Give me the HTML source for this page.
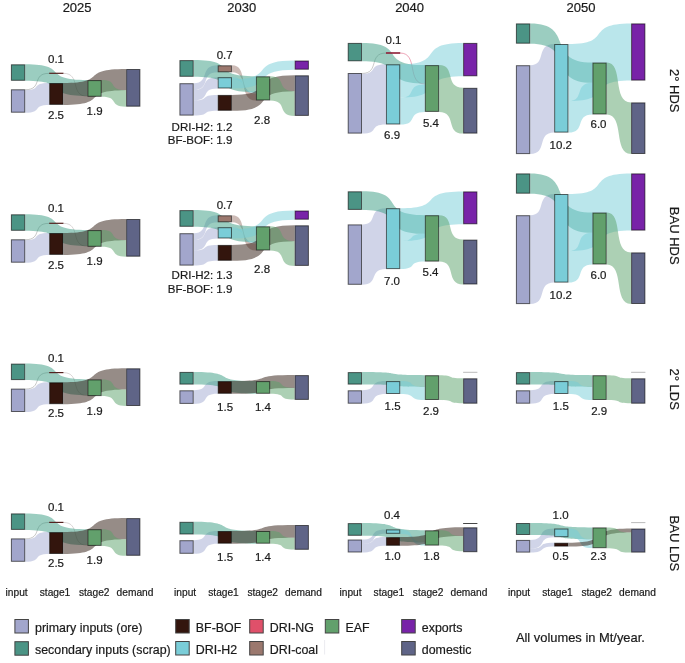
<!DOCTYPE html>
<html><head><meta charset="utf-8"><style>
html,body{margin:0;padding:0;background:#fff;}
svg{display:block;filter:blur(0.4px);}
text{font-family:"Liberation Sans", sans-serif;fill:#1a1a1a;stroke:#1a1a1a;stroke-width:0.2px;}
.n{font-size:11.5px;}
.h{font-size:13px;}
.a{font-size:10.2px;}
.l{font-size:12.4px;}
.l2{font-size:12.9px;}
</style></head><body>
<svg width="685" height="663" viewBox="0 0 685 663">
<rect width="685" height="663" fill="#fff"/>
<g><path d="M25.2,89.75C43.16,89.75 31.19,73.35 49.15,73.35" fill="none" stroke="#9a9a9a" stroke-width="0.8" stroke-opacity="0.7"/><path d="M63.45,73.35C81.41,73.35 69.44,96.25 87.4,96.25" fill="none" stroke="#bdb3b3" stroke-width="0.8" stroke-opacity="0.7"/><path d="M25.2,90.2C42.16,90.2 30.19,83 49.15,83L49.15,104.9C31.19,104.9 43.16,112.7 25.2,112.7Z" fill="#a1aad2" fill-opacity="0.5"/><path d="M25.2,64.3C70.85,64.3 39.75,80.1 87.4,80.1L87.4,96C40.75,96 71.85,80.8 25.2,80.8Z" fill="#379b81" fill-opacity="0.5"/><path d="M63.45,83C109.44,83 78.11,69 126.1,69L126.1,90.2C79.11,90.2 110.44,104.9 63.45,104.9Z" fill="#2d190f" fill-opacity="0.5"/><path d="M101.7,80.1C119,80.1 106.8,90.2 126.1,90.2L126.1,106.7C107.8,106.7 120,96.8 101.7,96.8Z" fill="#59a169" fill-opacity="0.5"/><rect x="11.4" y="64.8" width="13.3" height="15.5" fill="#4b9485" stroke="#000" stroke-opacity="0.6" stroke-width="1"/><rect x="11.4" y="89.8" width="13.3" height="22.4" fill="#a2a6cc" stroke="#000" stroke-opacity="0.6" stroke-width="1"/><rect x="49.15" y="72.7" width="14.3" height="1.2" fill="#55221f"/><rect x="49.65" y="83.5" width="13.3" height="20.9" fill="#33150d" stroke="#000" stroke-opacity="0.6" stroke-width="1"/><rect x="87.9" y="80.6" width="13.3" height="15.7" fill="#62a06c" stroke="#000" stroke-opacity="0.6" stroke-width="1"/><rect x="126.6" y="69.5" width="13.3" height="36.7" fill="#5f6487" stroke="#000" stroke-opacity="0.6" stroke-width="1"/><text x="56" y="62.6" text-anchor="middle" class="n">0.1</text><text x="56" y="119.4" text-anchor="middle" class="n">2.5</text><text x="94.6" y="115.4" text-anchor="middle" class="n">1.9</text></g>
<g><path d="M25.2,239.75C43.16,239.75 31.19,223.35 49.15,223.35" fill="none" stroke="#9a9a9a" stroke-width="0.8" stroke-opacity="0.7"/><path d="M63.45,223.35C81.41,223.35 69.44,246.25 87.4,246.25" fill="none" stroke="#bdb3b3" stroke-width="0.8" stroke-opacity="0.7"/><path d="M25.2,240.2C42.16,240.2 30.19,233 49.15,233L49.15,254.9C31.19,254.9 43.16,262.7 25.2,262.7Z" fill="#a1aad2" fill-opacity="0.5"/><path d="M25.2,214.3C70.85,214.3 39.75,230.1 87.4,230.1L87.4,246C40.75,246 71.85,230.8 25.2,230.8Z" fill="#379b81" fill-opacity="0.5"/><path d="M63.45,233C109.44,233 78.11,219 126.1,219L126.1,240.2C79.11,240.2 110.44,254.9 63.45,254.9Z" fill="#2d190f" fill-opacity="0.5"/><path d="M101.7,230.1C119,230.1 106.8,240.2 126.1,240.2L126.1,256.7C107.8,256.7 120,246.8 101.7,246.8Z" fill="#59a169" fill-opacity="0.5"/><rect x="11.4" y="214.8" width="13.3" height="15.5" fill="#4b9485" stroke="#000" stroke-opacity="0.6" stroke-width="1"/><rect x="11.4" y="239.8" width="13.3" height="22.4" fill="#a2a6cc" stroke="#000" stroke-opacity="0.6" stroke-width="1"/><rect x="49.15" y="222.7" width="14.3" height="1.2" fill="#55221f"/><rect x="49.65" y="233.5" width="13.3" height="20.9" fill="#33150d" stroke="#000" stroke-opacity="0.6" stroke-width="1"/><rect x="87.9" y="230.6" width="13.3" height="15.7" fill="#62a06c" stroke="#000" stroke-opacity="0.6" stroke-width="1"/><rect x="126.6" y="219.5" width="13.3" height="36.7" fill="#5f6487" stroke="#000" stroke-opacity="0.6" stroke-width="1"/><text x="56" y="212" text-anchor="middle" class="n">0.1</text><text x="56" y="269.1" text-anchor="middle" class="n">2.5</text><text x="94.6" y="264.9" text-anchor="middle" class="n">1.9</text></g>
<g><path d="M25.2,389.05C43.16,389.05 31.19,372.65 49.15,372.65" fill="none" stroke="#9a9a9a" stroke-width="0.8" stroke-opacity="0.7"/><path d="M63.45,372.65C81.41,372.65 69.44,395.55 87.4,395.55" fill="none" stroke="#bdb3b3" stroke-width="0.8" stroke-opacity="0.7"/><path d="M25.2,389.5C42.16,389.5 30.19,382.3 49.15,382.3L49.15,404.2C31.19,404.2 43.16,412 25.2,412Z" fill="#a1aad2" fill-opacity="0.5"/><path d="M25.2,363.6C70.85,363.6 39.75,379.4 87.4,379.4L87.4,395.3C40.75,395.3 71.85,380.1 25.2,380.1Z" fill="#379b81" fill-opacity="0.5"/><path d="M63.45,382.3C109.44,382.3 78.11,368.3 126.1,368.3L126.1,389.5C79.11,389.5 110.44,404.2 63.45,404.2Z" fill="#2d190f" fill-opacity="0.5"/><path d="M101.7,379.4C119,379.4 106.8,389.5 126.1,389.5L126.1,406C107.8,406 120,396.1 101.7,396.1Z" fill="#59a169" fill-opacity="0.5"/><rect x="11.4" y="364.1" width="13.3" height="15.5" fill="#4b9485" stroke="#000" stroke-opacity="0.6" stroke-width="1"/><rect x="11.4" y="389.1" width="13.3" height="22.4" fill="#a2a6cc" stroke="#000" stroke-opacity="0.6" stroke-width="1"/><rect x="49.15" y="372" width="14.3" height="1.2" fill="#55221f"/><rect x="49.65" y="382.8" width="13.3" height="20.9" fill="#33150d" stroke="#000" stroke-opacity="0.6" stroke-width="1"/><rect x="87.9" y="379.9" width="13.3" height="15.7" fill="#62a06c" stroke="#000" stroke-opacity="0.6" stroke-width="1"/><rect x="126.6" y="368.8" width="13.3" height="36.7" fill="#5f6487" stroke="#000" stroke-opacity="0.6" stroke-width="1"/><text x="56" y="362" text-anchor="middle" class="n">0.1</text><text x="56" y="417.3" text-anchor="middle" class="n">2.5</text><text x="94.6" y="414.5" text-anchor="middle" class="n">1.9</text></g>
<g><path d="M25.2,538.85C43.16,538.85 31.19,522.45 49.15,522.45" fill="none" stroke="#9a9a9a" stroke-width="0.8" stroke-opacity="0.7"/><path d="M63.45,522.45C81.41,522.45 69.44,545.35 87.4,545.35" fill="none" stroke="#bdb3b3" stroke-width="0.8" stroke-opacity="0.7"/><path d="M25.2,539.3C42.16,539.3 30.19,532.1 49.15,532.1L49.15,554C31.19,554 43.16,561.8 25.2,561.8Z" fill="#a1aad2" fill-opacity="0.5"/><path d="M25.2,513.4C70.85,513.4 39.75,529.2 87.4,529.2L87.4,545.1C40.75,545.1 71.85,529.9 25.2,529.9Z" fill="#379b81" fill-opacity="0.5"/><path d="M63.45,532.1C109.44,532.1 78.11,518.1 126.1,518.1L126.1,539.3C79.11,539.3 110.44,554 63.45,554Z" fill="#2d190f" fill-opacity="0.5"/><path d="M101.7,529.2C119,529.2 106.8,539.3 126.1,539.3L126.1,555.8C107.8,555.8 120,545.9 101.7,545.9Z" fill="#59a169" fill-opacity="0.5"/><rect x="11.4" y="513.9" width="13.3" height="15.5" fill="#4b9485" stroke="#000" stroke-opacity="0.6" stroke-width="1"/><rect x="11.4" y="538.9" width="13.3" height="22.4" fill="#a2a6cc" stroke="#000" stroke-opacity="0.6" stroke-width="1"/><rect x="49.15" y="521.8" width="14.3" height="1.2" fill="#55221f"/><rect x="49.65" y="532.6" width="13.3" height="20.9" fill="#33150d" stroke="#000" stroke-opacity="0.6" stroke-width="1"/><rect x="87.9" y="529.7" width="13.3" height="15.7" fill="#62a06c" stroke="#000" stroke-opacity="0.6" stroke-width="1"/><rect x="126.6" y="518.6" width="13.3" height="36.7" fill="#5f6487" stroke="#000" stroke-opacity="0.6" stroke-width="1"/><text x="56" y="511.4" text-anchor="middle" class="n">0.1</text><text x="56" y="567.1" text-anchor="middle" class="n">2.5</text><text x="94.6" y="564.3" text-anchor="middle" class="n">1.9</text></g>
<g><path d="M231.95,65.3C248.91,65.3 236.94,93.5 255.9,93.5L255.9,100.5C237.94,100.5 249.91,72.3 231.95,72.3Z" fill="#9b786e" fill-opacity="0.5"/><path d="M193.7,83.2C210.66,83.2 198.69,65.3 217.65,65.3L217.65,72.3C199.69,72.3 211.66,89.9 193.7,89.9Z" fill="#a1aad2" fill-opacity="0.5"/><path d="M193.7,89.9C210.66,89.9 198.69,77.2 217.65,77.2L217.65,88.5C199.69,88.5 211.66,100.3 193.7,100.3Z" fill="#a1aad2" fill-opacity="0.5"/><path d="M193.7,100.3C210.66,100.3 198.69,94.9 217.65,94.9L217.65,110.8C199.69,110.8 211.66,115.6 193.7,115.6Z" fill="#a1aad2" fill-opacity="0.5"/><path d="M193.7,60.1C239.35,60.1 208.25,76.3 255.9,76.3L255.9,92.2C209.25,92.2 240.35,76.8 193.7,76.8Z" fill="#379b81" fill-opacity="0.5"/><path d="M231.95,79.3C277.94,79.3 246.61,60.5 294.6,60.5L294.6,69.7C247.61,69.7 278.94,88.5 231.95,88.5Z" fill="#75cdd7" fill-opacity="0.5"/><path d="M231.95,77.2C248.91,77.2 236.94,91.6 255.9,91.6L255.9,93.5C237.94,93.5 249.91,79.3 231.95,79.3Z" fill="#75cdd7" fill-opacity="0.5"/><path d="M231.95,94.9C277.94,94.9 246.61,75.3 294.6,75.3L294.6,91.2C247.61,91.2 278.94,110.8 231.95,110.8Z" fill="#2d190f" fill-opacity="0.5"/><path d="M270.2,76.3C287.5,76.3 275.3,91.2 294.6,91.2L294.6,115.9C276.3,115.9 288.5,100.5 270.2,100.5Z" fill="#59a169" fill-opacity="0.5"/><rect x="179.9" y="60.6" width="13.3" height="15.7" fill="#4b9485" stroke="#000" stroke-opacity="0.6" stroke-width="1"/><rect x="179.9" y="83.7" width="13.3" height="31.4" fill="#a2a6cc" stroke="#000" stroke-opacity="0.6" stroke-width="1"/><rect x="218.15" y="65.8" width="13.3" height="6" fill="#9b786e" stroke="#000" stroke-opacity="0.6" stroke-width="1"/><rect x="218.15" y="77.7" width="13.3" height="10.3" fill="#7acdd8" stroke="#000" stroke-opacity="0.6" stroke-width="1"/><rect x="218.15" y="95.4" width="13.3" height="14.9" fill="#33150d" stroke="#000" stroke-opacity="0.6" stroke-width="1"/><rect x="256.4" y="76.8" width="13.3" height="23.2" fill="#62a06c" stroke="#000" stroke-opacity="0.6" stroke-width="1"/><rect x="295.1" y="61" width="13.3" height="8.2" fill="#7823a8" stroke="#000" stroke-opacity="0.6" stroke-width="1"/><rect x="295.1" y="75.8" width="13.3" height="39.6" fill="#5f6487" stroke="#000" stroke-opacity="0.6" stroke-width="1"/><text x="224.7" y="59" text-anchor="middle" class="n">0.7</text><text x="262.1" y="123.7" text-anchor="middle" class="n">2.8</text><text x="232.3" y="130.7" text-anchor="end" class="n">DRI-H2: 1.2</text><text x="232.3" y="144.2" text-anchor="end" class="n">BF-BOF: 1.9</text></g>
<g><path d="M231.95,215.3C248.91,215.3 236.94,243.5 255.9,243.5L255.9,250.5C237.94,250.5 249.91,222.3 231.95,222.3Z" fill="#9b786e" fill-opacity="0.5"/><path d="M193.7,233.2C210.66,233.2 198.69,215.3 217.65,215.3L217.65,222.3C199.69,222.3 211.66,239.9 193.7,239.9Z" fill="#a1aad2" fill-opacity="0.5"/><path d="M193.7,239.9C210.66,239.9 198.69,227.2 217.65,227.2L217.65,238.5C199.69,238.5 211.66,250.3 193.7,250.3Z" fill="#a1aad2" fill-opacity="0.5"/><path d="M193.7,250.3C210.66,250.3 198.69,244.9 217.65,244.9L217.65,260.8C199.69,260.8 211.66,265.6 193.7,265.6Z" fill="#a1aad2" fill-opacity="0.5"/><path d="M193.7,210.1C239.35,210.1 208.25,226.3 255.9,226.3L255.9,242.2C209.25,242.2 240.35,226.8 193.7,226.8Z" fill="#379b81" fill-opacity="0.5"/><path d="M231.95,229.3C277.94,229.3 246.61,210.5 294.6,210.5L294.6,219.7C247.61,219.7 278.94,238.5 231.95,238.5Z" fill="#75cdd7" fill-opacity="0.5"/><path d="M231.95,227.2C248.91,227.2 236.94,241.6 255.9,241.6L255.9,243.5C237.94,243.5 249.91,229.3 231.95,229.3Z" fill="#75cdd7" fill-opacity="0.5"/><path d="M231.95,244.9C277.94,244.9 246.61,225.3 294.6,225.3L294.6,241.2C247.61,241.2 278.94,260.8 231.95,260.8Z" fill="#2d190f" fill-opacity="0.5"/><path d="M270.2,226.3C287.5,226.3 275.3,241.2 294.6,241.2L294.6,265.9C276.3,265.9 288.5,250.5 270.2,250.5Z" fill="#59a169" fill-opacity="0.5"/><rect x="179.9" y="210.6" width="13.3" height="15.7" fill="#4b9485" stroke="#000" stroke-opacity="0.6" stroke-width="1"/><rect x="179.9" y="233.7" width="13.3" height="31.4" fill="#a2a6cc" stroke="#000" stroke-opacity="0.6" stroke-width="1"/><rect x="218.15" y="215.8" width="13.3" height="6" fill="#9b786e" stroke="#000" stroke-opacity="0.6" stroke-width="1"/><rect x="218.15" y="227.7" width="13.3" height="10.3" fill="#7acdd8" stroke="#000" stroke-opacity="0.6" stroke-width="1"/><rect x="218.15" y="245.4" width="13.3" height="14.9" fill="#33150d" stroke="#000" stroke-opacity="0.6" stroke-width="1"/><rect x="256.4" y="226.8" width="13.3" height="23.2" fill="#62a06c" stroke="#000" stroke-opacity="0.6" stroke-width="1"/><rect x="295.1" y="211" width="13.3" height="8.2" fill="#7823a8" stroke="#000" stroke-opacity="0.6" stroke-width="1"/><rect x="295.1" y="225.8" width="13.3" height="39.6" fill="#5f6487" stroke="#000" stroke-opacity="0.6" stroke-width="1"/><text x="224.7" y="209.1" text-anchor="middle" class="n">0.7</text><text x="262.1" y="272.8" text-anchor="middle" class="n">2.8</text><text x="232.3" y="279.2" text-anchor="end" class="n">DRI-H2: 1.3</text><text x="232.3" y="293.2" text-anchor="end" class="n">BF-BOF: 1.9</text></g>
<g><path d="M362,73.45C379.96,73.45 367.99,53.05 385.95,53.05" fill="none" stroke="#a0a0a0" stroke-width="0.8" stroke-opacity="0.7"/><path d="M400.25,53.05C418.66,53.05 406.39,83.95 424.8,83.95" fill="none" stroke="#e06080" stroke-width="0.8" stroke-opacity="0.7"/><path d="M362,73.9C378.96,73.9 366.99,64.3 385.95,64.3L385.95,124.5C367.99,124.5 379.96,133.6 362,133.6Z" fill="#a1aad2" fill-opacity="0.5"/><path d="M362,42.9C408.1,42.9 376.7,65.1 424.8,65.1L424.8,83.5C377.7,83.5 409.1,61.3 362,61.3Z" fill="#379b81" fill-opacity="0.5"/><path d="M400.25,64.3C446.39,64.3 414.96,42.9 463.1,42.9L463.1,76.3C415.96,76.3 447.39,97.6 400.25,97.6Z" fill="#75cdd7" fill-opacity="0.5"/><path d="M400.25,97.6C417.66,97.6 405.39,84.4 424.8,84.4L424.8,111.9C406.39,111.9 418.66,124.5 400.25,124.5Z" fill="#75cdd7" fill-opacity="0.5"/><path d="M439.1,65.1C456.1,65.1 444.1,87.8 463.1,87.8L463.1,133.6C445.1,133.6 457.1,111.9 439.1,111.9Z" fill="#59a169" fill-opacity="0.5"/><rect x="348.2" y="43.4" width="13.3" height="17.4" fill="#4b9485" stroke="#000" stroke-opacity="0.6" stroke-width="1"/><rect x="348.2" y="73.5" width="13.3" height="59.6" fill="#a2a6cc" stroke="#000" stroke-opacity="0.6" stroke-width="1"/><rect x="385.95" y="52.2" width="14.3" height="1.6" fill="#8e1e36"/><rect x="386.45" y="64.8" width="13.3" height="59.2" fill="#7acdd8" stroke="#000" stroke-opacity="0.6" stroke-width="1"/><rect x="425.3" y="65.6" width="13.3" height="45.8" fill="#62a06c" stroke="#000" stroke-opacity="0.6" stroke-width="1"/><rect x="463.6" y="43.4" width="13.3" height="32.4" fill="#7823a8" stroke="#000" stroke-opacity="0.6" stroke-width="1"/><rect x="463.6" y="88.3" width="13.3" height="44.8" fill="#5f6487" stroke="#000" stroke-opacity="0.6" stroke-width="1"/><text x="393.5" y="43.5" text-anchor="middle" class="n">0.1</text><text x="392.1" y="139.3" text-anchor="middle" class="n">6.9</text><text x="430.9" y="126.6" text-anchor="middle" class="n">5.4</text></g>
<g><path d="M530.2,65.2C547.16,65.2 535.19,44 554.15,44L554.15,132.6C536.19,132.6 548.16,154.1 530.2,154.1Z" fill="#a1aad2" fill-opacity="0.5"/><path d="M530.2,23.4C575.85,23.4 544.75,62.5 592.4,62.5L592.4,82.8C545.75,82.8 576.85,43.7 530.2,43.7Z" fill="#379b81" fill-opacity="0.5"/><path d="M568.45,44C614.44,44 583.11,23.4 631.1,23.4L631.1,80.6C584.11,80.6 615.44,101.2 568.45,101.2Z" fill="#75cdd7" fill-opacity="0.5"/><path d="M568.45,101.2C585.41,101.2 573.44,82.8 592.4,82.8L592.4,114.5C574.44,114.5 586.41,132.6 568.45,132.6Z" fill="#75cdd7" fill-opacity="0.5"/><path d="M606.7,62.5C624,62.5 611.8,102.4 631.1,102.4L631.1,154C612.8,154 625,114.5 606.7,114.5Z" fill="#59a169" fill-opacity="0.5"/><rect x="516.4" y="23.9" width="13.3" height="19.3" fill="#4b9485" stroke="#000" stroke-opacity="0.6" stroke-width="1"/><rect x="516.4" y="65.7" width="13.3" height="87.9" fill="#a2a6cc" stroke="#000" stroke-opacity="0.6" stroke-width="1"/><rect x="554.65" y="44.5" width="13.3" height="87.6" fill="#7acdd8" stroke="#000" stroke-opacity="0.6" stroke-width="1"/><rect x="592.9" y="63" width="13.3" height="51" fill="#62a06c" stroke="#000" stroke-opacity="0.6" stroke-width="1"/><rect x="631.6" y="23.9" width="13.3" height="56.2" fill="#7823a8" stroke="#000" stroke-opacity="0.6" stroke-width="1"/><rect x="631.6" y="102.9" width="13.3" height="50.6" fill="#5f6487" stroke="#000" stroke-opacity="0.6" stroke-width="1"/><text x="560.8" y="148.9" text-anchor="middle" class="n">10.2</text><text x="598.5" y="128.1" text-anchor="middle" class="n">6.0</text></g>
<g><path d="M530.2,215.2C547.16,215.2 535.19,194 554.15,194L554.15,282.6C536.19,282.6 548.16,304.1 530.2,304.1Z" fill="#a1aad2" fill-opacity="0.5"/><path d="M530.2,173.4C575.85,173.4 544.75,212.5 592.4,212.5L592.4,232.8C545.75,232.8 576.85,193.7 530.2,193.7Z" fill="#379b81" fill-opacity="0.5"/><path d="M568.45,194C614.44,194 583.11,173.4 631.1,173.4L631.1,230.6C584.11,230.6 615.44,251.2 568.45,251.2Z" fill="#75cdd7" fill-opacity="0.5"/><path d="M568.45,251.2C585.41,251.2 573.44,232.8 592.4,232.8L592.4,264.5C574.44,264.5 586.41,282.6 568.45,282.6Z" fill="#75cdd7" fill-opacity="0.5"/><path d="M606.7,212.5C624,212.5 611.8,252.4 631.1,252.4L631.1,304C612.8,304 625,264.5 606.7,264.5Z" fill="#59a169" fill-opacity="0.5"/><rect x="516.4" y="173.9" width="13.3" height="19.3" fill="#4b9485" stroke="#000" stroke-opacity="0.6" stroke-width="1"/><rect x="516.4" y="215.7" width="13.3" height="87.9" fill="#a2a6cc" stroke="#000" stroke-opacity="0.6" stroke-width="1"/><rect x="554.65" y="194.5" width="13.3" height="87.6" fill="#7acdd8" stroke="#000" stroke-opacity="0.6" stroke-width="1"/><rect x="592.9" y="213" width="13.3" height="51" fill="#62a06c" stroke="#000" stroke-opacity="0.6" stroke-width="1"/><rect x="631.6" y="173.9" width="13.3" height="56.2" fill="#7823a8" stroke="#000" stroke-opacity="0.6" stroke-width="1"/><rect x="631.6" y="252.9" width="13.3" height="50.6" fill="#5f6487" stroke="#000" stroke-opacity="0.6" stroke-width="1"/><text x="560.8" y="298.9" text-anchor="middle" class="n">10.2</text><text x="598.5" y="278.6" text-anchor="middle" class="n">6.0</text></g>
<g><path d="M362,224.4C378.96,224.4 366.99,208.2 385.95,208.2L385.95,269.1C367.99,269.1 379.96,284.8 362,284.8Z" fill="#a1aad2" fill-opacity="0.5"/><path d="M362,191.3C408.1,191.3 376.7,215.2 424.8,215.2L424.8,233.8C377.7,233.8 409.1,209.9 362,209.9Z" fill="#379b81" fill-opacity="0.5"/><path d="M400.25,208.2C446.39,208.2 414.96,191.4 463.1,191.4L463.1,224.3C415.96,224.3 447.39,241.1 400.25,241.1Z" fill="#75cdd7" fill-opacity="0.5"/><path d="M400.25,241.1C417.66,241.1 405.39,233.8 424.8,233.8L424.8,261.6C406.39,261.6 418.66,269.1 400.25,269.1Z" fill="#75cdd7" fill-opacity="0.5"/><path d="M439.1,215.2C456.1,215.2 444.1,239.6 463.1,239.6L463.1,284.5C445.1,284.5 457.1,261.6 439.1,261.6Z" fill="#59a169" fill-opacity="0.5"/><rect x="348.2" y="191.8" width="13.3" height="17.6" fill="#4b9485" stroke="#000" stroke-opacity="0.6" stroke-width="1"/><rect x="348.2" y="224.9" width="13.3" height="59.4" fill="#a2a6cc" stroke="#000" stroke-opacity="0.6" stroke-width="1"/><rect x="386.45" y="208.7" width="13.3" height="59.9" fill="#7acdd8" stroke="#000" stroke-opacity="0.6" stroke-width="1"/><rect x="425.3" y="215.7" width="13.3" height="45.4" fill="#62a06c" stroke="#000" stroke-opacity="0.6" stroke-width="1"/><rect x="463.6" y="191.9" width="13.3" height="31.9" fill="#7823a8" stroke="#000" stroke-opacity="0.6" stroke-width="1"/><rect x="463.6" y="240.1" width="13.3" height="43.9" fill="#5f6487" stroke="#000" stroke-opacity="0.6" stroke-width="1"/><text x="392" y="284.8" text-anchor="middle" class="n">7.0</text><text x="430.5" y="276.2" text-anchor="middle" class="n">5.4</text></g>
<g><path d="M193.7,390.3C210.66,390.3 198.69,381.1 217.65,381.1L217.65,393.8C199.69,393.8 211.66,403.9 193.7,403.9Z" fill="#a1aad2" fill-opacity="0.5"/><path d="M193.7,371.9C239.35,371.9 208.25,381.1 255.9,381.1L255.9,393.8C209.25,393.8 240.35,384.6 193.7,384.6Z" fill="#379b81" fill-opacity="0.5"/><path d="M231.95,381.1C277.94,381.1 246.61,375.1 294.6,375.1L294.6,387.9C247.61,387.9 278.94,393.8 231.95,393.8Z" fill="#2d190f" fill-opacity="0.5"/><path d="M270.2,381.1C287.5,381.1 275.3,387.9 294.6,387.9L294.6,399.6C276.3,399.6 288.5,393.8 270.2,393.8Z" fill="#59a169" fill-opacity="0.5"/><rect x="179.9" y="372.4" width="13.3" height="11.7" fill="#4b9485" stroke="#000" stroke-opacity="0.6" stroke-width="1"/><rect x="179.9" y="390.8" width="13.3" height="12.6" fill="#a2a6cc" stroke="#000" stroke-opacity="0.6" stroke-width="1"/><rect x="218.15" y="381.6" width="13.3" height="11.7" fill="#33150d" stroke="#000" stroke-opacity="0.6" stroke-width="1"/><rect x="256.4" y="381.6" width="13.3" height="11.7" fill="#62a06c" stroke="#000" stroke-opacity="0.6" stroke-width="1"/><rect x="295.1" y="375.6" width="13.3" height="23.8" fill="#5f6487" stroke="#000" stroke-opacity="0.6" stroke-width="1"/><text x="225.1" y="411.1" text-anchor="middle" class="n">1.5</text><text x="262.9" y="411.1" text-anchor="middle" class="n">1.4</text></g>
<g><path d="M193.7,540.2C210.66,540.2 198.69,531 217.65,531L217.65,543.7C199.69,543.7 211.66,553.8 193.7,553.8Z" fill="#a1aad2" fill-opacity="0.5"/><path d="M193.7,521.8C239.35,521.8 208.25,531 255.9,531L255.9,543.7C209.25,543.7 240.35,534.5 193.7,534.5Z" fill="#379b81" fill-opacity="0.5"/><path d="M231.95,531C277.94,531 246.61,525 294.6,525L294.6,537.8C247.61,537.8 278.94,543.7 231.95,543.7Z" fill="#2d190f" fill-opacity="0.5"/><path d="M270.2,531C287.5,531 275.3,537.8 294.6,537.8L294.6,549.5C276.3,549.5 288.5,543.7 270.2,543.7Z" fill="#59a169" fill-opacity="0.5"/><rect x="179.9" y="522.3" width="13.3" height="11.7" fill="#4b9485" stroke="#000" stroke-opacity="0.6" stroke-width="1"/><rect x="179.9" y="540.7" width="13.3" height="12.6" fill="#a2a6cc" stroke="#000" stroke-opacity="0.6" stroke-width="1"/><rect x="218.15" y="531.5" width="13.3" height="11.7" fill="#33150d" stroke="#000" stroke-opacity="0.6" stroke-width="1"/><rect x="256.4" y="531.5" width="13.3" height="11.7" fill="#62a06c" stroke="#000" stroke-opacity="0.6" stroke-width="1"/><rect x="295.1" y="525.5" width="13.3" height="23.8" fill="#5f6487" stroke="#000" stroke-opacity="0.6" stroke-width="1"/><text x="225.1" y="561" text-anchor="middle" class="n">1.5</text><text x="262.9" y="561" text-anchor="middle" class="n">1.4</text></g>
<g><path d="M362,390.3C378.96,390.3 366.99,381.1 385.95,381.1L385.95,394C367.99,394 379.96,403.7 362,403.7Z" fill="#a1aad2" fill-opacity="0.5"/><path d="M362,372.1C408.1,372.1 376.7,375.2 424.8,375.2L424.8,387C377.7,387 409.1,384.6 362,384.6Z" fill="#379b81" fill-opacity="0.5"/><path d="M400.25,381.1C417.66,381.1 405.39,387 424.8,387L424.8,400C406.39,400 418.66,394 400.25,394Z" fill="#75cdd7" fill-opacity="0.5"/><path d="M439.1,375.2C456.1,375.2 444.1,378.3 463.1,378.3L463.1,403.2C445.1,403.2 457.1,400 439.1,400Z" fill="#59a169" fill-opacity="0.5"/><rect x="348.2" y="372.6" width="13.3" height="11.5" fill="#4b9485" stroke="#000" stroke-opacity="0.6" stroke-width="1"/><rect x="348.2" y="390.8" width="13.3" height="12.4" fill="#a2a6cc" stroke="#000" stroke-opacity="0.6" stroke-width="1"/><rect x="386.45" y="381.6" width="13.3" height="11.9" fill="#7acdd8" stroke="#000" stroke-opacity="0.6" stroke-width="1"/><rect x="425.3" y="375.7" width="13.3" height="23.8" fill="#62a06c" stroke="#000" stroke-opacity="0.6" stroke-width="1"/><rect x="463.1" y="371.8" width="14.3" height="1" fill="#bbbbbb"/><rect x="463.6" y="378.8" width="13.3" height="24.4" fill="#5f6487" stroke="#000" stroke-opacity="0.6" stroke-width="1"/><text x="392.6" y="409.7" text-anchor="middle" class="n">1.5</text><text x="431" y="415.2" text-anchor="middle" class="n">2.9</text></g>
<g><path d="M530.2,390.3C547.16,390.3 535.19,381.1 554.15,381.1L554.15,394C536.19,394 548.16,403.7 530.2,403.7Z" fill="#a1aad2" fill-opacity="0.5"/><path d="M530.2,372.1C575.85,372.1 544.75,375.2 592.4,375.2L592.4,387C545.75,387 576.85,384.6 530.2,384.6Z" fill="#379b81" fill-opacity="0.5"/><path d="M568.45,381.1C585.41,381.1 573.44,387 592.4,387L592.4,400C574.44,400 586.41,394 568.45,394Z" fill="#75cdd7" fill-opacity="0.5"/><path d="M606.7,375.2C624,375.2 611.8,378.3 631.1,378.3L631.1,403.2C612.8,403.2 625,400 606.7,400Z" fill="#59a169" fill-opacity="0.5"/><rect x="516.4" y="372.6" width="13.3" height="11.5" fill="#4b9485" stroke="#000" stroke-opacity="0.6" stroke-width="1"/><rect x="516.4" y="390.8" width="13.3" height="12.4" fill="#a2a6cc" stroke="#000" stroke-opacity="0.6" stroke-width="1"/><rect x="554.65" y="381.6" width="13.3" height="11.9" fill="#7acdd8" stroke="#000" stroke-opacity="0.6" stroke-width="1"/><rect x="592.9" y="375.7" width="13.3" height="23.8" fill="#62a06c" stroke="#000" stroke-opacity="0.6" stroke-width="1"/><rect x="631.1" y="371.8" width="14.3" height="1" fill="#bbbbbb"/><rect x="631.6" y="378.8" width="13.3" height="24.4" fill="#5f6487" stroke="#000" stroke-opacity="0.6" stroke-width="1"/><text x="560.8" y="409.7" text-anchor="middle" class="n">1.5</text><text x="599.2" y="415.2" text-anchor="middle" class="n">2.9</text></g>
<g><path d="M362,539.5C378.96,539.5 366.99,529.4 385.95,529.4L385.95,533.8C367.99,533.8 379.96,543.9 362,543.9Z" fill="#a1aad2" fill-opacity="0.5"/><path d="M362,543.9C378.96,543.9 366.99,537.1 385.95,537.1L385.95,545.8C367.99,545.8 379.96,552.5 362,552.5Z" fill="#a1aad2" fill-opacity="0.5"/><path d="M362,523.1C408.1,523.1 376.7,530.3 424.8,530.3L424.8,542.5C377.7,542.5 409.1,535.8 362,535.8Z" fill="#379b81" fill-opacity="0.5"/><path d="M400.25,529.4C417.66,529.4 405.39,542.2 424.8,542.2L424.8,545.6C406.39,545.6 418.66,533.8 400.25,533.8Z" fill="#75cdd7" fill-opacity="0.5"/><path d="M400.25,537.1C446.39,537.1 414.96,527.3 463.1,527.3L463.1,536C415.96,536 447.39,545.8 400.25,545.8Z" fill="#2d190f" fill-opacity="0.5"/><path d="M439.1,530.3C456.1,530.3 444.1,536 463.1,536L463.1,551.3C445.1,551.3 457.1,545.6 439.1,545.6Z" fill="#59a169" fill-opacity="0.5"/><rect x="348.2" y="523.6" width="13.3" height="11.7" fill="#4b9485" stroke="#000" stroke-opacity="0.6" stroke-width="1"/><rect x="348.2" y="540" width="13.3" height="12" fill="#a2a6cc" stroke="#000" stroke-opacity="0.6" stroke-width="1"/><rect x="386.45" y="529.9" width="13.3" height="3.4" fill="#7acdd8" stroke="#000" stroke-opacity="0.6" stroke-width="1"/><rect x="386.45" y="537.6" width="13.3" height="7.7" fill="#33150d" stroke="#000" stroke-opacity="0.6" stroke-width="1"/><rect x="425.3" y="530.8" width="13.3" height="14.3" fill="#62a06c" stroke="#000" stroke-opacity="0.6" stroke-width="1"/><rect x="463.1" y="523" width="14.3" height="1" fill="#474747"/><rect x="463.6" y="527.8" width="13.3" height="23.9" fill="#5f6487" stroke="#000" stroke-opacity="0.6" stroke-width="1"/><text x="392" y="519.3" text-anchor="middle" class="n">0.4</text><text x="392.6" y="560.2" text-anchor="middle" class="n">1.0</text><text x="431.6" y="560.2" text-anchor="middle" class="n">1.8</text></g>
<g><path d="M530.2,539.9C547.16,539.9 535.19,528.5 554.15,528.5L554.15,537.2C536.19,537.2 548.16,548.6 530.2,548.6Z" fill="#a1aad2" fill-opacity="0.5"/><path d="M530.2,548.6C547.16,548.6 535.19,542.7 554.15,542.7L554.15,546.6C536.19,546.6 548.16,552.6 530.2,552.6Z" fill="#a1aad2" fill-opacity="0.5"/><path d="M530.2,523C575.85,523 544.75,527.4 592.4,527.4L592.4,539.4C545.75,539.4 576.85,535 530.2,535Z" fill="#379b81" fill-opacity="0.5"/><path d="M568.45,528.5C585.41,528.5 573.44,539.4 592.4,539.4L592.4,548.1C574.44,548.1 586.41,537.2 568.45,537.2Z" fill="#75cdd7" fill-opacity="0.5"/><path d="M568.45,542.7C614.44,542.7 583.11,528.5 631.1,528.5L631.1,532.4C584.11,532.4 615.44,546.6 568.45,546.6Z" fill="#2d190f" fill-opacity="0.5"/><path d="M606.7,527.4C624,527.4 611.8,532.4 631.1,532.4L631.1,552.6C612.8,552.6 625,548.2 606.7,548.2Z" fill="#59a169" fill-opacity="0.5"/><rect x="516.4" y="523.5" width="13.3" height="11" fill="#4b9485" stroke="#000" stroke-opacity="0.6" stroke-width="1"/><rect x="516.4" y="540.4" width="13.3" height="11.7" fill="#a2a6cc" stroke="#000" stroke-opacity="0.6" stroke-width="1"/><rect x="554.65" y="529" width="13.3" height="7.7" fill="#7acdd8" stroke="#000" stroke-opacity="0.6" stroke-width="1"/><rect x="554.65" y="543.2" width="13.3" height="2.9" fill="#33150d" stroke="#000" stroke-opacity="0.6" stroke-width="1"/><rect x="592.9" y="527.9" width="13.3" height="19.8" fill="#62a06c" stroke="#000" stroke-opacity="0.6" stroke-width="1"/><rect x="631.1" y="522.1" width="14.3" height="1" fill="#bbbbbb"/><rect x="631.6" y="529" width="13.3" height="23.1" fill="#5f6487" stroke="#000" stroke-opacity="0.6" stroke-width="1"/><text x="560.6" y="519.3" text-anchor="middle" class="n">1.0</text><text x="560.6" y="560.2" text-anchor="middle" class="n">0.5</text><text x="598.5" y="560.2" text-anchor="middle" class="n">2.3</text></g>
<text x="77.1" y="12" text-anchor="middle" class="h">2025</text>
<text x="241.8" y="12" text-anchor="middle" class="h">2030</text>
<text x="409.6" y="12" text-anchor="middle" class="h">2040</text>
<text x="581.0" y="12" text-anchor="middle" class="h">2050</text>
<text transform="translate(670,90.7) rotate(90)" x="0" y="0" text-anchor="middle" class="h">2° HDS</text>
<text transform="translate(670,235.7) rotate(90)" x="0" y="0" text-anchor="middle" class="h">BAU HDS</text>
<text transform="translate(670,389.2) rotate(90)" x="0" y="0" text-anchor="middle" class="h">2° LDS</text>
<text transform="translate(670,543.4) rotate(90)" x="0" y="0" text-anchor="middle" class="h">BAU LDS</text>
<text x="16.6" y="596" text-anchor="middle" class="a">input</text>
<text x="55" y="596" text-anchor="middle" class="a">stage1</text>
<text x="94.2" y="596" text-anchor="middle" class="a">stage2</text>
<text x="135" y="596" text-anchor="middle" class="a">demand</text>
<text x="185.1" y="596" text-anchor="middle" class="a">input</text>
<text x="223.5" y="596" text-anchor="middle" class="a">stage1</text>
<text x="262.7" y="596" text-anchor="middle" class="a">stage2</text>
<text x="303.5" y="596" text-anchor="middle" class="a">demand</text>
<text x="350.5" y="596" text-anchor="middle" class="a">input</text>
<text x="388.9" y="596" text-anchor="middle" class="a">stage1</text>
<text x="428.1" y="596" text-anchor="middle" class="a">stage2</text>
<text x="468.9" y="596" text-anchor="middle" class="a">demand</text>
<text x="519.1" y="596" text-anchor="middle" class="a">input</text>
<text x="557.5" y="596" text-anchor="middle" class="a">stage1</text>
<text x="596.7" y="596" text-anchor="middle" class="a">stage2</text>
<text x="637.5" y="596" text-anchor="middle" class="a">demand</text>
<rect x="14.9" y="619.5" width="13.5" height="13.5" fill="#a2a6cc" stroke="#444" stroke-width="1"/>
<text x="35" y="632.1" class="l">primary inputs (ore)</text>
<rect x="14.9" y="641.7" width="13.5" height="13.5" fill="#4b9485" stroke="#444" stroke-width="1"/>
<text x="35" y="654.3" class="l">secondary inputs (scrap)</text>
<rect x="175.7" y="619.5" width="13.5" height="13.5" fill="#33150d" stroke="#444" stroke-width="1"/>
<text x="195.8" y="632.1" class="l">BF-BOF</text>
<rect x="175.7" y="641.5" width="13.5" height="13.5" fill="#7acdd8" stroke="#444" stroke-width="1"/>
<text x="195.8" y="654.1" class="l">DRI-H2</text>
<rect x="249.7" y="619.5" width="13.5" height="13.5" fill="#e0506a" stroke="#444" stroke-width="1"/>
<text x="269.8" y="632.1" class="l">DRI-NG</text>
<rect x="249.7" y="641.5" width="13.5" height="13.5" fill="#9b786e" stroke="#444" stroke-width="1"/>
<text x="269.8" y="654.1" class="l">DRI-coal</text>
<rect x="325.3" y="619.5" width="13.5" height="13.5" fill="#62a06c" stroke="#444" stroke-width="1"/>
<text x="345.4" y="632.1" class="l">EAF</text>
<rect x="401.7" y="619.5" width="13.5" height="13.5" fill="#7823a8" stroke="#444" stroke-width="1"/>
<text x="421.8" y="632.1" class="l">exports</text>
<rect x="401.7" y="641.5" width="13.5" height="13.5" fill="#5f6487" stroke="#444" stroke-width="1"/>
<text x="421.8" y="654.1" class="l">domestic</text>
<text x="515.9" y="641.6" class="l2">All volumes in Mt/year.</text>
<rect x="324.1" y="640" width="1" height="14.5" fill="#ebebf0"/>
</svg></body></html>
